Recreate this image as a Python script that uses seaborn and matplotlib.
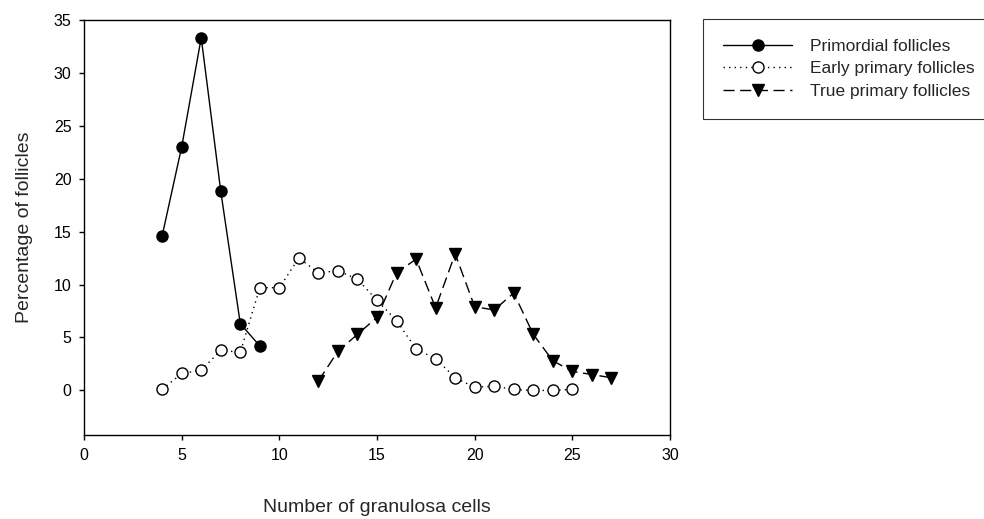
import pandas as pd
import seaborn as sns
import matplotlib.pyplot as plt

# --- data ---
primordial_x = [4, 5, 6, 7, 8, 9]
primordial_y = [14.6, 23.0, 33.3, 18.8, 6.3, 4.2]

early_x = list(range(4, 26))
early_y = [0.1, 1.6, 1.9, 3.8, 3.6, 9.7, 9.7, 12.5, 11.1, 11.3, 10.5,
           8.5, 6.6, 3.9, 3.0, 1.2, 0.3, 0.4, 0.1, 0.0, 0.0, 0.1]

true_x = list(range(12, 28))
true_y = [0.9, 3.7, 5.3, 6.9, 11.1, 12.4, 7.8, 12.9, 7.9, 7.6, 9.2,
          5.3, 2.8, 1.8, 1.5, 1.2]

series_names = ["Primordial follicles", "Early primary follicles", "True primary follicles"]

sns.set_style("ticks")
plt.rcParams['font.family'] = ['Liberation Sans', 'DejaVu Sans']

fig = plt.figure(figsize=(9.84, 5.19), dpi=100)
ax = fig.add_axes([0.0854, 0.162, 0.5955, 0.8])

common = dict(color="black", linewidth=1, markersize=8, markeredgecolor="black",
              markeredgewidth=1, ax=ax)

sns.lineplot(x=primordial_x, y=primordial_y, marker="o", linestyle="-",
             markerfacecolor="black", label=series_names[0], **common)
sns.lineplot(x=early_x, y=early_y, marker="o", linestyle=(0, (1, 3)),
             markerfacecolor="white", label=series_names[1], **common)
sns.lineplot(x=true_x, y=true_y, marker="v", linestyle=(0, (8, 4)),
             markerfacecolor="black", label=series_names[2], **common)

ax.set_xlim(0, 30)
ax.set_ylim(-4.2, 35)
ax.set_xticks(range(0, 31, 5))
ax.set_yticks(range(0, 36, 5))
ax.tick_params(labelsize=11.5, direction="out", length=3.6, width=1, pad=5.5,
               colors="black")
for sp in ax.spines.values():
    sp.set_visible(True)
    sp.set_color("black")
    sp.set_linewidth(1)

ax.set_xlabel("Number of granulosa cells", fontsize=14, labelpad=26)
ax.set_ylabel("Percentage of follicles", fontsize=14, labelpad=15)

handles, labels = ax.get_legend_handles_labels()
ax.get_legend().remove()
leg = fig.legend(handles, labels, loc="upper left",
                 bbox_to_anchor=(0.7144, 0.7726, 0.30, 0.191), mode="expand",
                 fontsize=12.5, handlelength=4.0, frameon=True, fancybox=False,
                 borderpad=1.15, labelspacing=0.42, handletextpad=1.0,
                 borderaxespad=0)
leg.get_frame().set_edgecolor("black")
leg.get_frame().set_linewidth(0.8)

fig.savefig("out.png", dpi=100)
